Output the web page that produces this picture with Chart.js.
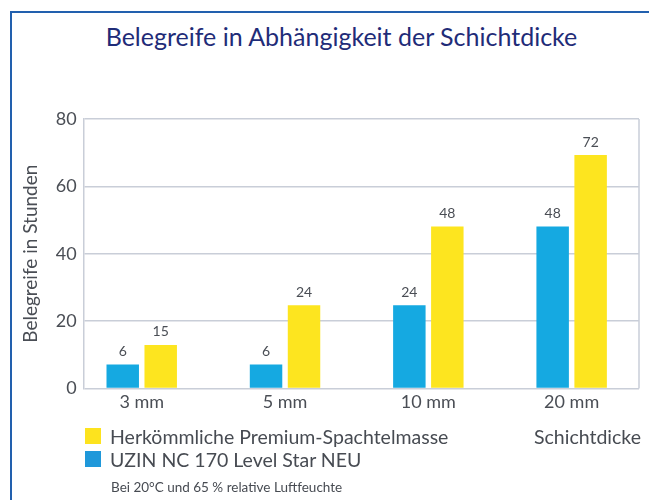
<!DOCTYPE html>
<html lang="de">
<head>
<meta charset="utf-8">
<title>Belegreife in Abhängigkeit der Schichtdicke</title>
<script src="https://cdn.jsdelivr.net/npm/chart.js@4.4.1/dist/chart.umd.min.js"></script>
<style>
  html, body { margin:0; padding:0; background:#fff; }
  body { width:649px; height:500px; position:relative; overflow:hidden; font-family:Lato, "Open Sans", sans-serif; }
  #frame { position:absolute; left:10px; top:11px; width:700px; height:600px; border-top:2px solid #2260ae; border-left:2px solid #2260ae; }
  #title { position:absolute; left:0; width:683px; top:21px; text-align:center; font-size:25px; color:#1f2c78; }
  #wrap { position:absolute; left:0; top:0; width:649px; height:500px; }
  .leg { position:absolute; left:110px; font-size:19.5px; color:#474b52; line-height:1; }
  .sw { position:absolute; left:-25px; top:1px; width:16px; height:16px; }
  #xname { position:absolute; left:534px; top:427px; font-size:19.5px; color:#474b52; line-height:1; }
  #note { position:absolute; left:111px; top:481px; font-size:13.5px; color:#474b52; line-height:1; }
</style>
</head>
<body>
<div id="frame"></div>
<div id="title">Belegreife in Abhängigkeit der Schichtdicke</div>
<div id="wrap"><canvas id="chart" width="649" height="500"></canvas></div>
<div class="leg" style="top:427px"><span class="sw" style="background:#fde31e"></span>Herkömmliche Premium-Spachtelmasse</div>
<div class="leg" style="top:450px"><span class="sw" style="background:#1f98da"></span>UZIN NC 170 Level Star NEU</div>
<div id="xname">Schichtdicke</div>
<div id="note">Bei 20°C und 65 % relative Luftfeuchte</div>
<script>
const categories = ["3 mm", "5 mm", "10 mm", "20 mm"];
// bar heights as drawn in the picture
const uzinValues = [7.1, 7.1, 24.7, 48.1];
const premiumValues = [12.9, 24.7, 48.1, 69.3];
// value labels printed above the bars
const uzinLabels = ["6", "6", "24", "48"];
const premiumLabels = ["15", "24", "48", "72"];
const yTicks = [0, 20, 40, 60, 80];

const gridColor = "#c9ced8";
const textColor = "#4a4e55";

const valueLabels = {
  id: "valueLabels",
  afterDatasetsDraw(chart){
    const ctx = chart.ctx;
    ctx.save();
    ctx.font = "14px Lato, sans-serif";
    ctx.fillStyle = textColor;
    ctx.textAlign = "center";
    ctx.textBaseline = "bottom";
    chart.data.datasets.forEach((ds, i) => {
      const meta = chart.getDatasetMeta(i);
      meta.data.forEach((bar, j) => {
        ctx.fillText(ds.valueText[j], bar.x, bar.y - 6);
      });
    });
    ctx.restore();
  }
};

const rightEdge = {
  id: "rightEdge",
  beforeDatasetsDraw(chart){
    const a = chart.chartArea, ctx = chart.ctx;
    ctx.save();
    ctx.strokeStyle = gridColor;
    ctx.lineWidth = 1.5;
    ctx.beginPath();
    ctx.moveTo(a.right, a.top);
    ctx.lineTo(a.right, a.bottom);
    ctx.stroke();
    ctx.restore();
  }
};

new Chart(document.getElementById("chart"), {
  type: "bar",
  data: {
    datasets: [
      { label: "UZIN NC 170 Level Star NEU", data: uzinValues.map((v,i)=>({x:i, y:v})), valueText: uzinLabels,
        backgroundColor: "#15a9e1" },
      { label: "Herkömmliche Premium-Spachtelmasse", data: premiumValues.map((v,i)=>({x:i, y:v})), valueText: premiumLabels,
        backgroundColor: "#fde51f" }
    ]
  },
  options: {
    responsive: false,
    animation: false,
    categoryPercentage: 0.53,
    barPercentage: 0.855,
    layout: { padding: { top: 119, right: 10, bottom: 92, left: 15 } },
    plugins: { legend: { display: false }, tooltip: { enabled: false }, title: { display: false } },
    scales: {
      x: {
        type: "linear",
        offset: false,
        min: -0.405,
        max: 3.47,
        afterBuildTicks: (s) => { s.ticks = categories.map((_, i) => ({ value: i })); },
        grid: { display: false },
        border: { display: false },
        ticks: { callback: (v) => categories[v], color: textColor, font: { family: "Lato", size: 18 }, padding: -5, maxRotation: 0 }
      },
      y: {
        min: 0,
        max: 80,
        afterBuildTicks: (s) => { s.ticks = yTicks.map(v => ({ value: v })); },
        grid: { color: gridColor, lineWidth: 1.5, drawTicks: false },
        border: { color: gridColor, width: 1.5 },
        ticks: { color: textColor, font: { family: "Lato", size: 18 }, padding: 7 },
        title: { display: true, text: "Belegreife in Stunden", color: textColor, font: { family: "Lato", size: 19 }, padding: { bottom: 7 } }
      }
    }
  },
  plugins: [valueLabels, rightEdge]
});
</script>
</body>
</html>
